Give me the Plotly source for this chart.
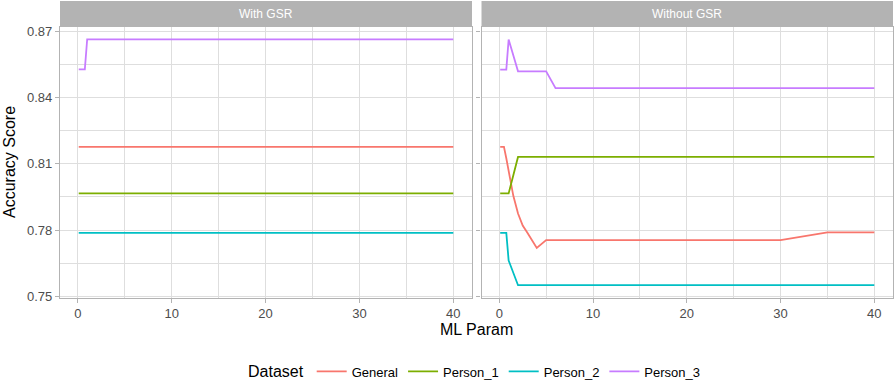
import plotly.graph_objects as go

# ---------------- data ----------------
ml_param = [0.1, 0.25, 0.5, 0.75, 1, 1.5, 2, 2.5, 3, 3.5, 4, 5, 6, 10, 15, 20, 25, 30, 35, 40]

datasets = ["General", "Person_1", "Person_2", "Person_3"]
colors = ["#F8766D", "#7CAE00", "#00BFC4", "#C77CFF"]

with_general = [0.8177, 0.8177, 0.8177, 0.8177, 0.8177, 0.8177, 0.8177, 0.8177, 0.8177, 0.8177,
                0.8177, 0.8177, 0.8177, 0.8177, 0.8177, 0.8177, 0.8177, 0.8177, 0.8177, 0.8177]
with_person1 = [0.7966, 0.7966, 0.7966, 0.7966, 0.7966, 0.7966, 0.7966, 0.7966, 0.7966, 0.7966,
                0.7966, 0.7966, 0.7966, 0.7966, 0.7966, 0.7966, 0.7966, 0.7966, 0.7966, 0.7966]
with_person2 = [0.7787, 0.7787, 0.7787, 0.7787, 0.7787, 0.7787, 0.7787, 0.7787, 0.7787, 0.7787,
                0.7787, 0.7787, 0.7787, 0.7787, 0.7787, 0.7787, 0.7787, 0.7787, 0.7787, 0.7787]
with_person3 = [0.8528, 0.8528, 0.8528, 0.8528, 0.8664, 0.8664, 0.8664, 0.8664, 0.8664, 0.8664,
                0.8664, 0.8664, 0.8664, 0.8664, 0.8664, 0.8664, 0.8664, 0.8664, 0.8664, 0.8664]

without_general = [0.8177, 0.8177, 0.8177, 0.8125, 0.8070, 0.7955, 0.7875, 0.7820, 0.7788, 0.7752,
                   0.7719, 0.7754, 0.7754, 0.7754, 0.7754, 0.7754, 0.7754, 0.7754, 0.7789, 0.7789]
without_person1 = [0.7966, 0.7966, 0.7966, 0.7966, 0.7966, 0.8048, 0.8131, 0.8131, 0.8131, 0.8131,
                   0.8131, 0.8131, 0.8131, 0.8131, 0.8131, 0.8131, 0.8131, 0.8131, 0.8131, 0.8131]
without_person2 = [0.7787, 0.7787, 0.7787, 0.7787, 0.7662, 0.7606, 0.7550, 0.7550, 0.7550, 0.7550,
                   0.7550, 0.7550, 0.7550, 0.7550, 0.7550, 0.7550, 0.7550, 0.7550, 0.7550, 0.7550]
without_person3 = [0.8527, 0.8527, 0.8527, 0.8527, 0.8663, 0.8591, 0.8519, 0.8519, 0.8519, 0.8519,
                   0.8519, 0.8519, 0.8443, 0.8443, 0.8443, 0.8443, 0.8443, 0.8443, 0.8443, 0.8443]

panels = ["With GSR", "Without GSR"]
panel_series = [
    [with_general, with_person1, with_person2, with_person3],
    [without_general, without_person1, without_person2, without_person3],
]

y_ticks = [0.75, 0.78, 0.81, 0.84, 0.87]
x_ticks = [0, 10, 20, 30, 40]

# ---------------- layout geometry ----------------
W, H = 896, 382
FONT = "Liberation Sans, Arial, sans-serif"
GRID = "#DEDEDE"
BORDER = "#B3B3B3"

panel_px = [(60, 472), (481.5, 893)]
top_px, strip_top_px, bottom_px = 27, 1, 297.5

def px_x(p):
    return p / W

def px_y(p):
    return 1 - p / H

# ggplot-style 5% expansion
all_y = [v for grp in panel_series for s in grp for v in s]
ymin, ymax = min(all_y), max(all_y)
ypad = (ymax - ymin) * 0.05
y_range = [ymin - ypad, ymax + ypad]
xmin, xmax = min(ml_param), max(ml_param)
xpad = (xmax - xmin) * 0.05
x_range = [xmin - xpad, xmax + xpad]

fig = go.Figure()

for pi, series in enumerate(panel_series):
    xa = "x" if pi == 0 else "x2"
    ya = "y" if pi == 0 else "y2"
    for name, col, vals in zip(datasets, colors, series):
        fig.add_trace(go.Scatter(
            x=ml_param, y=vals, mode="lines", name=name,
            line=dict(color=col, width=1.8),
            legendgroup=name, showlegend=(pi == 0),
            xaxis=xa, yaxis=ya,
        ))

axis_common = dict(
    showline=True, linecolor=BORDER, linewidth=1.3, mirror=True,
    ticks="outside", ticklen=4, tickcolor=BORDER, tickwidth=1,
    showgrid=True, gridcolor=GRID, gridwidth=1, zeroline=False,
    tickfont=dict(family=FONT, size=13, color="#4D4D4D"),
)

layout_axes = {}
for pi in range(2):
    sfx = "" if pi == 0 else "2"
    x0, x1 = panel_px[pi]
    layout_axes["xaxis" + sfx] = dict(
        axis_common, domain=[px_x(x0), px_x(x1)], range=x_range,
        tickvals=x_ticks, ticktext=[str(t) for t in x_ticks],
        minor=dict(dtick=5, tick0=0, showgrid=True, gridcolor=GRID, gridwidth=0.6, ticklen=0),
        anchor="y" + sfx,
    )
    layout_axes["yaxis" + sfx] = dict(
        axis_common, domain=[px_y(bottom_px), px_y(top_px)], range=y_range,
        tickvals=y_ticks, ticktext=["%.2f" % t for t in y_ticks],
        showticklabels=(pi == 0),
        minor=dict(dtick=0.015, tick0=0.75, showgrid=True, gridcolor=GRID, gridwidth=0.6, ticklen=0),
        anchor="x" + sfx,
    )

shapes = []
annotations = []
for pi, title in enumerate(panels):
    x0, x1 = panel_px[pi]
    shapes.append(dict(
        type="rect", xref="paper", yref="paper",
        x0=px_x(x0), x1=px_x(x1), y0=px_y(top_px), y1=px_y(strip_top_px),
        fillcolor=BORDER, line=dict(width=0), layer="below",
    ))
    annotations.append(dict(
        text=title, xref="paper", yref="paper",
        x=px_x((x0 + x1) / 2), y=px_y((top_px + strip_top_px) / 2),
        xanchor="center", yanchor="middle", showarrow=False,
        font=dict(family=FONT, size=12, color="white"),
    ))

annotations.append(dict(
    text="ML Param", xref="paper", yref="paper",
    x=px_x(476), y=px_y(329), xanchor="center", yanchor="middle",
    showarrow=False, font=dict(family=FONT, size=16, color="black"),
))
annotations.append(dict(
    text="Accuracy Score", xref="paper", yref="paper",
    x=px_x(10), y=px_y(162), xanchor="center", yanchor="middle",
    textangle=-90, showarrow=False, font=dict(family=FONT, size=16, color="black"),
))

fig.update_layout(
    width=W, height=H,
    margin=dict(l=0, r=0, t=0, b=0, autoexpand=False),
    paper_bgcolor="white", plot_bgcolor="white",
    font=dict(family=FONT, color="black"),
    shapes=shapes, annotations=annotations,
    legend=dict(
        orientation="h", x=px_x(476), xanchor="center",
        y=px_y(372), yanchor="middle",
        title=dict(text="Dataset", font=dict(family=FONT, size=16, color="black"), side="left"),
        font=dict(family=FONT, size=13, color="black"),
        itemwidth=30, tracegroupgap=0,
    ),
    **layout_axes,
)

fig.write_html(
    "out.html",
    config={"displayModeBar": False},
    post_script="document.body.style.margin='0';document.body.style.overflow='hidden';",
)
